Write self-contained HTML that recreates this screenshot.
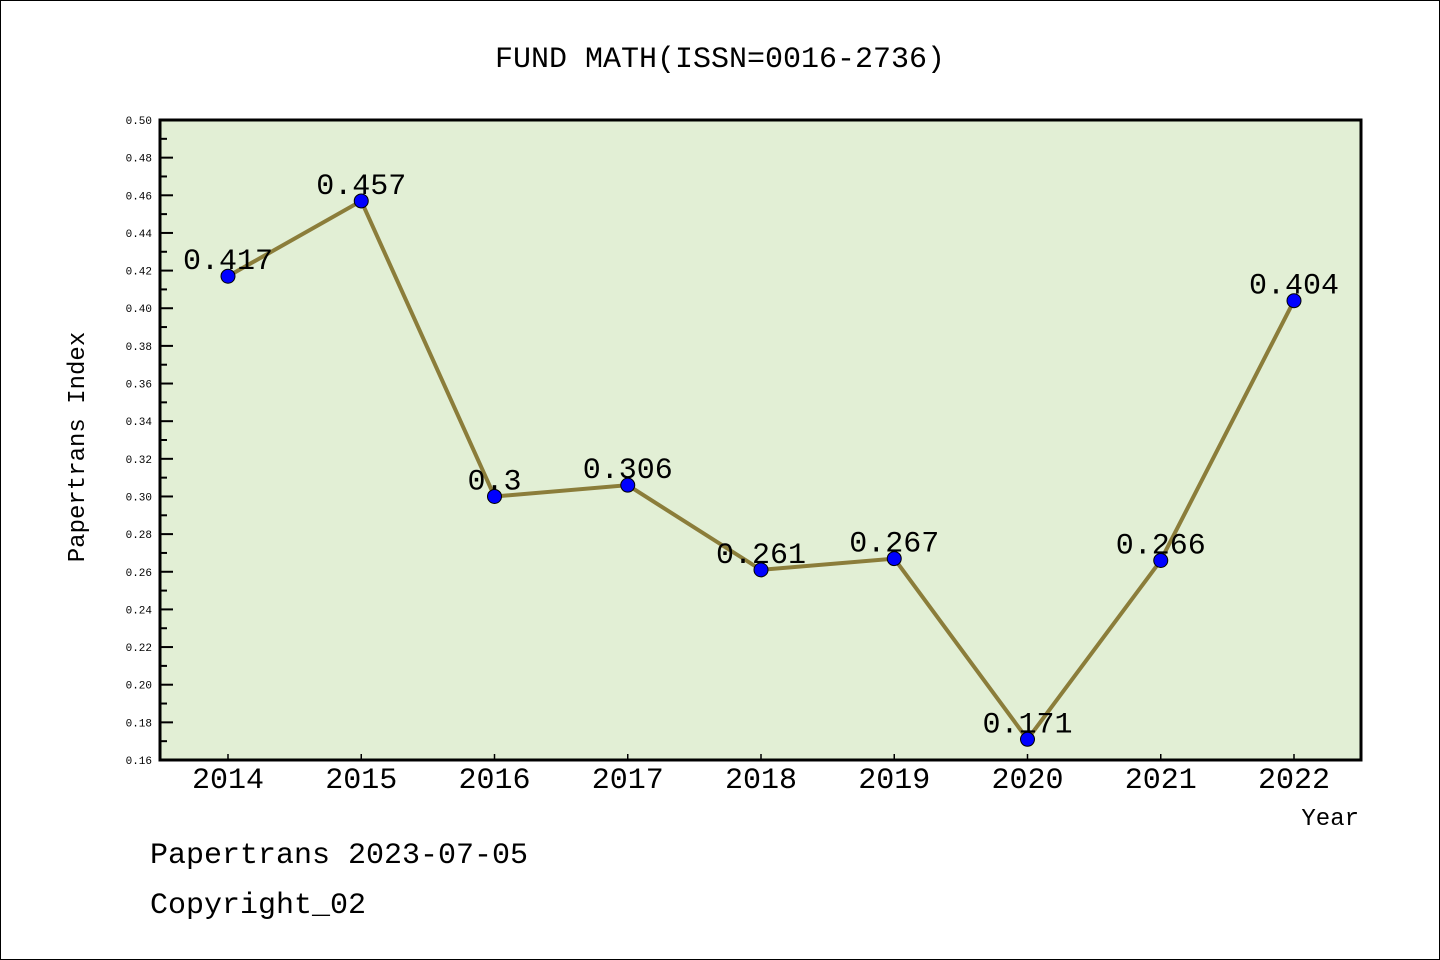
<!DOCTYPE html>
<html><head><meta charset="utf-8"><style>
html,body{margin:0;padding:0;background:#fff}
svg{display:block}
text{font-family:"Liberation Mono","DejaVu Sans Mono",monospace}
</style></head><body>
<svg id="chart" width="1440" height="960">
<rect x="0.5" y="0.5" width="1439" height="959" fill="#fff" stroke="#000"/>
<text x="720" y="67" font-size="30" text-anchor="middle">FUND MATH(ISSN=0016-2736)</text>
<rect x="160" y="120" width="1201" height="640" fill="#e2efd5"/>
<g id="yticks"></g>
<g id="xticks"></g>
<g id="series"></g>
<rect x="160" y="120" width="1201" height="640" fill="none" stroke="#000" stroke-width="3"/>
<text transform="translate(84,447) rotate(-90)" font-size="24" text-anchor="middle">Papertrans Index</text>
<text x="1359" y="825" font-size="24" text-anchor="end">Year</text>
<text x="150" y="863" font-size="30">Papertrans 2023-07-05</text>
<text x="150" y="913" font-size="30">Copyright_02</text>
</svg>
<script>
const years = ["2014","2015","2016","2017","2018","2019","2020","2021","2022"];
const values = [0.417,0.457,0.3,0.306,0.261,0.267,0.171,0.266,0.404];
const valueLabels = ["0.417","0.457","0.3","0.306","0.261","0.267","0.171","0.266","0.404"];
const yTickLabels = ["0.16","0.18","0.20","0.22","0.24","0.26","0.28","0.30","0.32","0.34","0.36","0.38","0.40","0.42","0.44","0.46","0.48","0.50"];
const NS="http://www.w3.org/2000/svg";
const yMin=0.16,yMax=0.50,plotTop=120,plotBot=760;
const yS=v=>plotBot-(v-yMin)/(yMax-yMin)*(plotBot-plotTop);
const xS=i=>228+i*(1294-228)/(years.length-1);
function mk(tag,attrs,parent){const e=document.createElementNS(NS,tag);for(const k in attrs)e.setAttribute(k,attrs[k]);parent.appendChild(e);return e;}
const yg=document.getElementById('yticks');
yTickLabels.forEach(t=>{const v=parseFloat(t),y=yS(v);
 const l=mk('line',{x1:160,x2:173,y1:y,y2:y,stroke:'#000','stroke-width':2},yg);
 
 
 const tx=mk('text',{x:152,y:y+4,'font-size':11,'text-anchor':'end'},yg);tx.textContent=t;
 
 
 if(v<yMax-0.001){const ym=yS(v+0.01);
  const m=mk('line',{x1:160,x2:167,y1:ym,y2:ym,stroke:'#000','stroke-width':2},yg);
  
  }
});
const xg=document.getElementById('xticks');
years.forEach((yr,i)=>{const x=xS(i);
 const l=mk('line',{x1:x,x2:x,y1:760,y2:754,stroke:'#000','stroke-width':1.5},xg);
 
 
 const t=mk('text',{x:x,y:788,'font-size':30,'text-anchor':'middle'},xg);t.textContent=yr;
 
 
});
const sg=document.getElementById('series');
const pts=values.map((v,i)=>xS(i)+','+yS(v)).join(' ');
const pl=mk('polyline',{points:pts,fill:'none',stroke:'#8b7d3a','stroke-width':4},sg);


values.forEach((v,i)=>{
 const c=mk('circle',{cx:xS(i),cy:yS(v),r:7,fill:'#0000ff',stroke:'#000','stroke-width':1},sg);
 
 
 const t=mk('text',{x:xS(i),y:yS(v)-7,'font-size':30,'text-anchor':'middle'},sg);t.textContent=valueLabels[i];
 
 
});
</script>
</body></html>
